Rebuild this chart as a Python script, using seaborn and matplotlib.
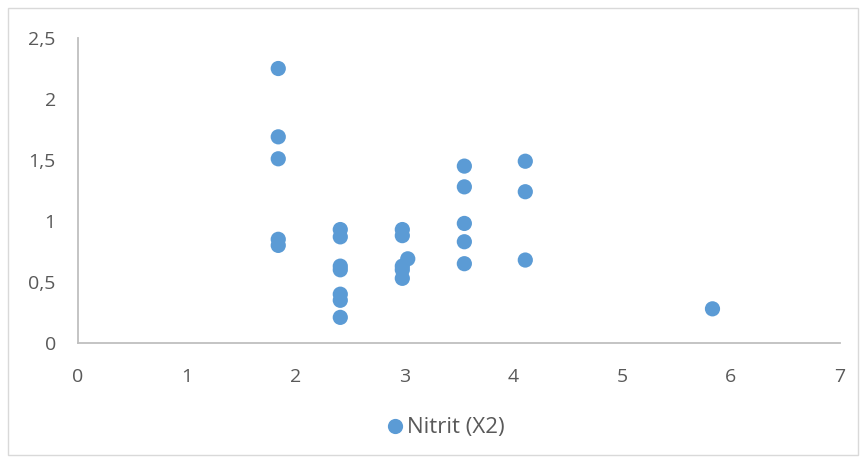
import pandas as pd
import matplotlib.pyplot as plt
import seaborn as sns
from matplotlib.ticker import FuncFormatter

# data
x_vals = [1.84, 1.84, 1.84, 1.84, 1.84,
          2.41, 2.41, 2.41, 2.41, 2.41, 2.41, 2.41,
          2.98, 2.98, 3.03, 2.98, 2.98, 2.98,
          3.55, 3.55, 3.55, 3.55, 3.55,
          4.11, 4.11, 4.11,
          5.83]
y_vals = [2.25, 1.69, 1.51, 0.85, 0.80,
          0.93, 0.87, 0.63, 0.60, 0.40, 0.35, 0.21,
          0.93, 0.88, 0.69, 0.63, 0.60, 0.53,
          1.45, 1.28, 0.98, 0.83, 0.65,
          1.49, 1.24, 0.68,
          0.28]
series_name = "Nitrit (X2)"
x_ticks = [0, 1, 2, 3, 4, 5, 6, 7]
y_ticks = [0, 0.5, 1, 1.5, 2, 2.5]

df = pd.DataFrame({"x": x_vals, "y": y_vals, "serie": series_name})

sns.set_style("white")
plt.rcParams['font.family'] = ['Open Sans', 'DejaVu Sans']

fig = plt.figure(figsize=(8.64, 4.62), dpi=100)
ax = fig.add_axes([0.0903, 0.2576, 0.8817, 0.6601])

sns.scatterplot(data=df, x="x", y="y", hue="serie", palette=["#5B9BD5"],
                s=120, edgecolor="none", linewidth=0, ax=ax, clip_on=False)

ax.set_xlim(0, 7)
ax.set_ylim(0, 2.5)
ax.set_xticks(x_ticks)
ax.set_yticks(y_ticks)
fmt = FuncFormatter(lambda v, p: f"{v:g}".replace(".", ","))
ax.xaxis.set_major_formatter(fmt)
ax.yaxis.set_major_formatter(fmt)
ax.tick_params(axis="both", length=0, labelsize=14, labelcolor="#595959")
ax.tick_params(axis="x", pad=18)
ax.tick_params(axis="y", pad=16)
ax.set_xlabel("")
ax.set_ylabel("")

for s in ["top", "right"]:
    ax.spines[s].set_visible(False)
for s in ["left", "bottom"]:
    ax.spines[s].set_color("#BFBFBF")
    ax.spines[s].set_linewidth(1.3)

handles, labels = ax.get_legend_handles_labels()
ax.legend(handles, labels, loc="center", bbox_to_anchor=(0.508, 0.074),
          bbox_transform=fig.transFigure, frameon=False, fontsize=16,
          labelcolor="#595959", handletextpad=-0.45, markerscale=1.0)

# chart border
fig.patches.append(plt.Rectangle((0.009, 0.015), 0.984, 0.968, transform=fig.transFigure,
                                 fill=False, edgecolor="#D9D9D9", linewidth=1))

fig.savefig("out.png", dpi=100)
